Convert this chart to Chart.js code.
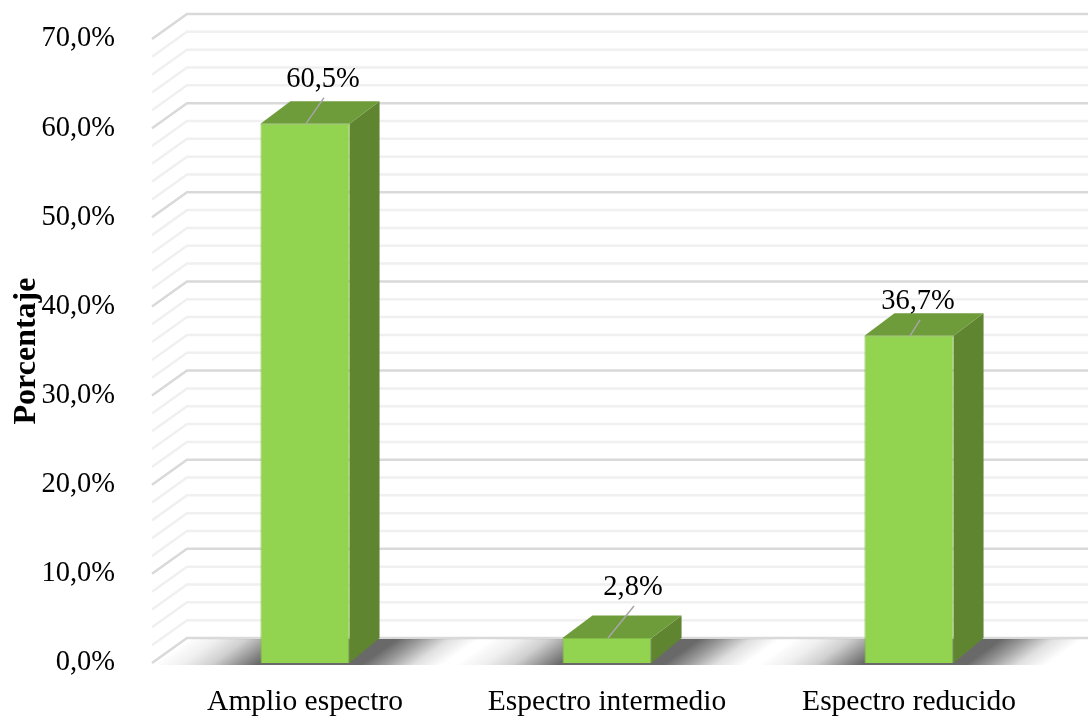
<!DOCTYPE html>
<html>
<head>
<meta charset="utf-8">
<style>
  html, body { margin: 0; padding: 0; background: #fff; }
  canvas { display: block; }
</style>
<script src="https://cdn.jsdelivr.net/npm/chart.js@4"></script>
</head>
<body>
<canvas id="chart" width="1088" height="717"></canvas>
<script>
const categories = ['Amplio espectro', 'Espectro intermedio', 'Espectro reducido'];
const percentages = [60.5, 2.8, 36.7];
const axisTitle = 'Porcentaje';

// Offset of the back wall from the front plane, in pixels.
const DEPTH_X = 35;
const DEPTH_Y = 25;
const BAR_DEPTH_X = 30;
const BAR_TOP_RISE = 22.5;
const MINOR_STEP = 2;
const SERIF = '"Liberation Serif", "Times New Roman", serif';
const formatPercent = v => v.toFixed(1).replace('.', ',') + '%';

// Leader line from the front edge of each bar top up to its label.
const leaders = [
  { from: [1, 0], to: [19, -26], label: [18, -44] },
  { from: [1, 0], to: [27, -32], label: [26, -51] },
  { from: [1, 0], to: [11, -16], label: [9, -34] }
];

const scene3d = {
  id: 'scene3d',
  beforeDatasetsDraw(chart) {
    const { ctx, scales: { x, y } } = chart;
    const left = x.left - 2;
    const floor = y.getPixelForValue(0);

    // Back wall and left wall grid lines, minor first so majors sit on top.
    const drawLine = (v, color) => {
      const py = y.getPixelForValue(v);
      ctx.beginPath();
      ctx.moveTo(left, py);
      ctx.lineTo(left + DEPTH_X, py - DEPTH_Y);
      ctx.lineTo(x.right + DEPTH_X, py - DEPTH_Y);
      ctx.strokeStyle = color;
      ctx.lineWidth = 2.5;
      ctx.stroke();
    };
    ctx.save();
    for (let v = y.min; v <= y.max; v += MINOR_STEP) {
      if (v % 10 !== 0) drawLine(v, '#f0f0f0');
    }
    for (let v = y.min; v <= y.max; v += 10) drawLine(v, '#d9d9d9');

    // Soft floor shadow under each bar, skewed to follow the depth direction.
    const meta = chart.getDatasetMeta(0);
    meta.data.forEach(bar => {
      ctx.save();
      ctx.beginPath();
      ctx.moveTo(bar.x - 150, floor + 2);
      ctx.lineTo(bar.x - 150 + DEPTH_X + 3, floor - DEPTH_Y + 1);
      ctx.lineTo(bar.x + 140 + DEPTH_X + 3, floor - DEPTH_Y + 1);
      ctx.lineTo(bar.x + 140, floor + 2);
      ctx.closePath();
      ctx.clip();
      ctx.transform(1, 0, -DEPTH_X / DEPTH_Y, 1, floor * DEPTH_X / DEPTH_Y, 0);
      const g = ctx.createLinearGradient(bar.x - 150, 0, bar.x + 140, 0);
      g.addColorStop(0, 'rgba(100,100,100,0)');
      g.addColorStop(0.1, 'rgba(100,100,100,0.1)');
      g.addColorStop(0.2, 'rgba(100,100,100,0.3)');
      g.addColorStop(0.3, 'rgba(100,100,100,0.72)');
      g.addColorStop(0.36, 'rgba(100,100,100,0.97)');
      g.addColorStop(0.72, 'rgba(100,100,100,0.97)');
      g.addColorStop(0.8, 'rgba(100,100,100,0.65)');
      g.addColorStop(0.9, 'rgba(100,100,100,0.2)');
      g.addColorStop(1, 'rgba(100,100,100,0)');
      ctx.fillStyle = g;
      ctx.fillRect(bar.x - 400, floor - DEPTH_Y - 2, 800, DEPTH_Y + 6);
      ctx.restore();
    });

    // Top and side faces of each bar.
    meta.data.forEach(bar => {
      const l = bar.x - bar.width / 2;
      const r = bar.x + bar.width / 2;
      ctx.fillStyle = '#5f8530';
      ctx.beginPath();
      ctx.moveTo(r, bar.y);
      ctx.lineTo(r + BAR_DEPTH_X, bar.y - BAR_TOP_RISE);
      ctx.lineTo(r + BAR_DEPTH_X, bar.base - DEPTH_Y);
      ctx.lineTo(r, bar.base);
      ctx.closePath();
      ctx.fill();
      ctx.fillStyle = '#6f9c3a';
      ctx.beginPath();
      ctx.moveTo(l, bar.y);
      ctx.lineTo(l + BAR_DEPTH_X, bar.y - BAR_TOP_RISE);
      ctx.lineTo(r + BAR_DEPTH_X, bar.y - BAR_TOP_RISE);
      ctx.lineTo(r, bar.y);
      ctx.closePath();
      ctx.fill();
    });
    ctx.restore();
  },
  afterDatasetsDraw(chart) {
    const { ctx } = chart;
    ctx.save();
    chart.getDatasetMeta(0).data.forEach((bar, i) => {
      const lead = leaders[i];
      ctx.beginPath();
      ctx.moveTo(bar.x + lead.from[0], bar.y + lead.from[1]);
      ctx.lineTo(bar.x + lead.to[0], bar.y + lead.to[1]);
      ctx.strokeStyle = '#a6a6a6';
      ctx.lineWidth = 1.5;
      ctx.stroke();
      ctx.fillStyle = '#000';
      ctx.font = '28.5px ' + SERIF;
      ctx.textAlign = 'center';
      ctx.textBaseline = 'middle';
      ctx.fillText(formatPercent(percentages[i]), bar.x + lead.label[0], bar.y + lead.label[1]);
    });
    ctx.restore();
  }
};

new Chart(document.getElementById('chart'), {
  type: 'bar',
  data: {
    labels: categories,
    datasets: [{
      data: percentages,
      backgroundColor: '#92d350',
      borderColor: '#82bb47',
      borderWidth: 1,
      categoryPercentage: 1,
      barPercentage: 0.295
    }]
  },
  plugins: [scene3d],
  options: {
    responsive: false,
    animation: false,
    layout: { padding: { top: 39, right: 28, left: 0, bottom: 0 } },
    plugins: { legend: { display: false }, tooltip: { enabled: false } },
    scales: {
      x: {
        grid: { display: false },
        border: { display: false },
        afterFit: s => { s.height = 54; s.paddingLeft = 0; s.paddingRight = 0; },
        ticks: {
          color: '#000',
          font: { family: SERIF, size: 29.5 },
          padding: 14,
          maxRotation: 0,
          autoSkip: false
        }
      },
      y: {
        min: 0,
        max: 70,
        grid: { display: false },
        border: { display: false },
        afterFit: s => { s.width = 154; s.paddingTop = 0; s.paddingBottom = 0; },
        title: {
          display: true,
          text: axisTitle,
          color: '#000',
          font: { family: SERIF, size: 32, weight: 'bold' },
          padding: { top: 8, bottom: 0 }
        },
        ticks: {
          stepSize: 10,
          color: '#000',
          font: { family: SERIF, size: 28.5 },
          padding: 31,
          callback: v => formatPercent(v)
        }
      }
    }
  }
});
</script>
</body>
</html>
